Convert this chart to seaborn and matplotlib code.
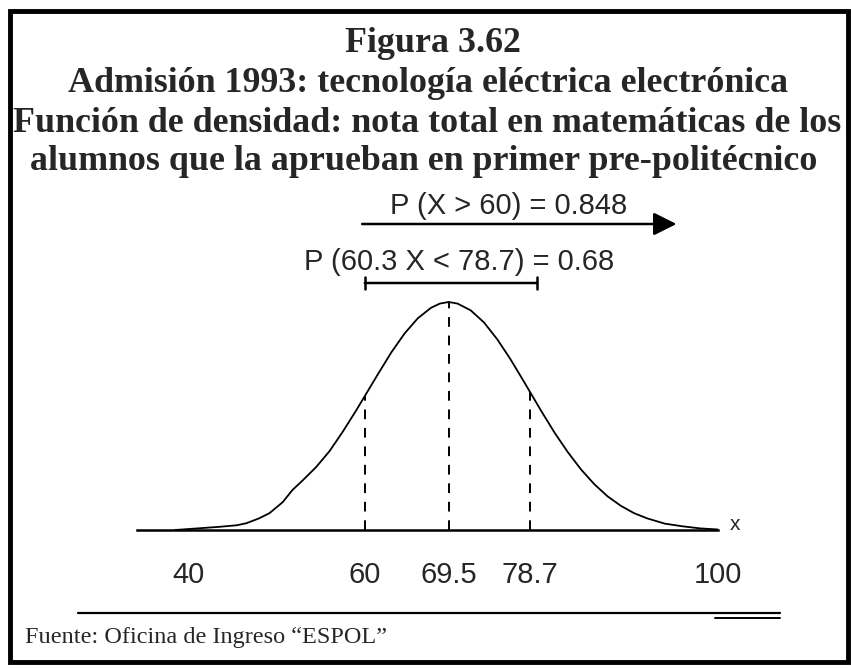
import matplotlib
matplotlib.use("Agg")
import matplotlib.pyplot as plt
from matplotlib.patches import Rectangle
from matplotlib.lines import Line2D
import seaborn as sns
import pandas as pd

# nota total (x) and density
nota = [38.5, 41, 43.5, 45.5, 46.6, 48, 49.2, 50.7, 51.8, 53, 54.5, 56, 57.5, 59,
        60, 61.5, 63, 64.5, 66, 67.5, 68.5, 69.5, 70.5, 72, 73.5, 75, 76.5, 78,
        78.7, 80, 81.5, 83, 84.5, 86, 87.5, 89, 90.5, 92, 94, 96, 98, 100]
densidad = [0.0, 0.0003, 0.0006, 0.0009, 0.0013, 0.0022, 0.0032, 0.0053, 0.0076,
            0.0095, 0.0120, 0.0150, 0.0187, 0.0227,
            0.0255, 0.0297, 0.0338, 0.0374, 0.0403, 0.0423, 0.0431, 0.0434, 0.0431,
            0.0418, 0.0395, 0.0363, 0.0325, 0.0283,
            0.0263, 0.0226, 0.0185, 0.0148, 0.0115, 0.0087, 0.0064, 0.0046, 0.0032,
            0.0022, 0.0012, 0.0007, 0.0003, 0.0001]

marcas = [60, 69.5, 78.7]             # dashed reference lines
alturas = [0.0255, 0.0434, 0.0263]    # where they meet the curve
tick_pos = [40, 60, 69.5, 78.7, 100]
tick_lab = ["40", "60", "69.5", "78.7", "100"]
flecha = [59.7, 95.3]                 # P(X > 60) arrow
intervalo = [60, 79.5]                # P(60 < X < 78.7) bracket

df = pd.DataFrame({"nota": nota, "densidad": densidad})

sns.set_style("white")
plt.rcParams["font.family"] = ["Liberation Sans", "DejaVu Sans"]

W, H = 851, 668
fig = plt.figure(figsize=(W / 100, H / 100), dpi=100)

# axes: x from pixel 137 to 718, axis line at pixel row 530, top at row 190
ax = fig.add_axes([137 / W, (H - 530) / H, (718 - 137) / W, 340 / H])
ymax = 0.0434 * 340 / 228
ax.set_xlim(34.2, 100)
ax.set_ylim(0, ymax)

sns.lineplot(data=df, x="nota", y="densidad", ax=ax, color="black", lw=1.3)
ax.vlines(marcas, 0, alturas, colors="black", linestyles=(0, (5, 4.5)), lw=1.4)

# only the bottom spine
for s in ["top", "left", "right"]:
    ax.spines[s].set_visible(False)
ax.spines["bottom"].set_linewidth(1.8)
ax.spines["bottom"].set_color("black")
ax.set_yticks([])
ax.set_xticks(tick_pos)
ax.set_xticklabels(tick_lab, fontsize=21)
ax.tick_params(axis="x", which="major", length=0, pad=22)
ax.set_xticks([60, 100], minor=True)
ax.tick_params(axis="x", which="minor", length=8, width=1.6, direction="out")
ax.set_xlabel("")
ax.set_ylabel("")

# arrow for P(X > 60)
y_arrow = 0.0434 * 306 / 228
ax.annotate("", xy=(flecha[1], y_arrow), xytext=(flecha[0], y_arrow),
            arrowprops=dict(arrowstyle="-|>,head_length=1.0,head_width=0.5",
                            color="black", lw=1.8, shrinkA=0, shrinkB=0,
                            mutation_scale=14),
            annotation_clip=False)

# bracket for P(60 < X < 78.7)
y_br = 0.0434 * 247 / 228
ax.annotate("", xy=(intervalo[1], y_br), xytext=(intervalo[0], y_br),
            arrowprops=dict(arrowstyle="|-|,widthA=0.3,widthB=0.3",
                            color="black", lw=1.8, shrinkA=0, shrinkB=0,
                            mutation_scale=15),
            annotation_clip=False)

fig.text(509 / W, 1 - 206 / H, "P (X > 60) = 0.848", ha="center", va="center", fontsize=21)
fig.text(459 / W, 1 - 262 / H, "P (60.3 X < 78.7) = 0.68", ha="center", va="center", fontsize=21)
fig.text(735 / W, 1 - 524 / H, "x", ha="center", va="center", fontsize=15)

# titles
titulos = ["Figura 3.62",
           "Admisión 1993: tecnología eléctrica electrónica",
           "Función de densidad: nota total en matemáticas de los",
           "alumnos que la aprueban en primer pre-politécnico"]
bases = [52, 92, 132, 170]
centros = [433, 428, 427, 424]
for t, b, c in zip(titulos, bases, centros):
    fig.text(c / W, 1 - b / H, t, ha="center", va="baseline", fontsize=25.8,
             fontweight="bold", family=["Liberation Serif", "DejaVu Serif"])

# source line and note
fig.add_artist(Line2D([78 / W, 780 / W], [1 - 613 / H] * 2, color="black", lw=1.6))
fig.add_artist(Line2D([715 / W, 780 / W], [1 - 618 / H] * 2, color="black", lw=1.4))
fig.text(25 / W, 1 - 643 / H, "Fuente: Oficina de Ingreso “ESPOL”", ha="left", va="baseline",
         fontsize=17.5, family=["Liberation Serif", "DejaVu Serif"])

# frame around the whole picture
fig.add_artist(Rectangle((10 / W, 1 - 662 / H), (848 - 10) / W, (662 - 11) / H,
                         transform=fig.transFigure, fill=False, ec="black", lw=3.5))

fig.savefig("out.png", dpi=100)
